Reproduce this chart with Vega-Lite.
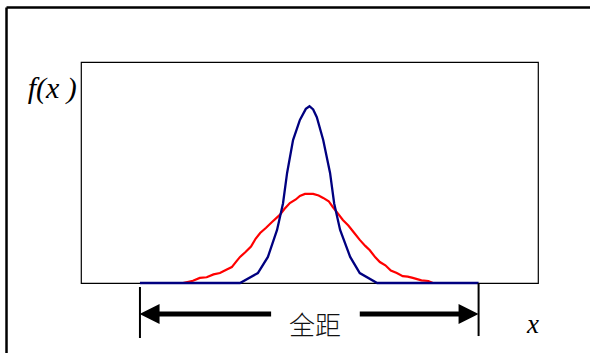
{
  "$schema": "https://vega.github.io/schema/vega-lite/v6.json",
  "width": 457,
  "height": 221,
  "autosize": {"type": "none"},
  "padding": {"left": 81, "top": 62, "right": 52, "bottom": 70},
  "background": "white",
  "config": {"view": {"stroke": "black", "strokeWidth": 1.2}, "axis": {"disable": true}},
  "datasets": {
    "curves": [
      {"series": "red", "x": -2.77, "y": 0},
      {"series": "red", "x": -2.55, "y": 1.0},
      {"series": "red", "x": -2.40, "y": 2.3},
      {"series": "red", "x": -2.25, "y": 2.6},
      {"series": "red", "x": -2.10, "y": 3.9},
      {"series": "red", "x": -1.96, "y": 4.5},
      {"series": "red", "x": -1.82, "y": 6.0},
      {"series": "red", "x": -1.70, "y": 7.2},
      {"series": "red", "x": -1.60, "y": 9.8},
      {"series": "red", "x": -1.52, "y": 11.8},
      {"series": "red", "x": -1.40, "y": 14.0},
      {"series": "red", "x": -1.28, "y": 16.5},
      {"series": "red", "x": -1.18, "y": 20.0},
      {"series": "red", "x": -1.08, "y": 22.6},
      {"series": "red", "x": -0.95, "y": 25.0},
      {"series": "red", "x": -0.82, "y": 27.6},
      {"series": "red", "x": -0.65, "y": 30.8},
      {"series": "red", "x": -0.55, "y": 33.5},
      {"series": "red", "x": -0.43, "y": 36.2},
      {"series": "red", "x": -0.30, "y": 37.8},
      {"series": "red", "x": -0.21, "y": 39.4},
      {"series": "red", "x": -0.10, "y": 40.3},
      {"series": "red", "x": 0.08, "y": 40.3},
      {"series": "red", "x": 0.20, "y": 39.6},
      {"series": "red", "x": 0.30, "y": 38.5},
      {"series": "red", "x": 0.42, "y": 37.0},
      {"series": "red", "x": 0.51, "y": 34.4},
      {"series": "red", "x": 0.62, "y": 31.5},
      {"series": "red", "x": 0.73, "y": 28.5},
      {"series": "red", "x": 0.85, "y": 26.0},
      {"series": "red", "x": 0.98, "y": 22.6},
      {"series": "red", "x": 1.10, "y": 19.5},
      {"series": "red", "x": 1.22, "y": 16.8},
      {"series": "red", "x": 1.32, "y": 14.8},
      {"series": "red", "x": 1.44, "y": 11.6},
      {"series": "red", "x": 1.54, "y": 9.5},
      {"series": "red", "x": 1.66, "y": 8.0},
      {"series": "red", "x": 1.78, "y": 5.6},
      {"series": "red", "x": 1.91, "y": 4.5},
      {"series": "red", "x": 2.04, "y": 3.1},
      {"series": "red", "x": 2.15, "y": 2.9},
      {"series": "red", "x": 2.26, "y": 2.3},
      {"series": "red", "x": 2.45, "y": 1.2},
      {"series": "red", "x": 2.60, "y": 0.9},
      {"series": "red", "x": 2.70, "y": 0},
      {"series": "blue", "x": -3.71, "y": 0},
      {"series": "blue", "x": -1.52, "y": 0},
      {"series": "blue", "x": -1.13, "y": 4.5},
      {"series": "blue", "x": -0.91, "y": 11.8},
      {"series": "blue", "x": -0.71, "y": 24.0},
      {"series": "blue", "x": -0.58, "y": 36.0},
      {"series": "blue", "x": -0.49, "y": 49.8},
      {"series": "blue", "x": -0.36, "y": 64.7},
      {"series": "blue", "x": -0.21, "y": 73.8},
      {"series": "blue", "x": -0.08, "y": 78.8},
      {"series": "blue", "x": 0.0, "y": 80.0},
      {"series": "blue", "x": 0.08, "y": 78.5},
      {"series": "blue", "x": 0.16, "y": 75.0},
      {"series": "blue", "x": 0.30, "y": 64.7},
      {"series": "blue", "x": 0.45, "y": 49.8},
      {"series": "blue", "x": 0.54, "y": 36.0},
      {"series": "blue", "x": 0.67, "y": 24.0},
      {"series": "blue", "x": 0.89, "y": 11.8},
      {"series": "blue", "x": 1.10, "y": 4.5},
      {"series": "blue", "x": 1.48, "y": 0},
      {"series": "blue", "x": 3.70, "y": 0}
    ],
    "bars": [
      {"x": -3.71, "y": -1.8, "y2": -24.9},
      {"x": 3.70, "y": 0, "y2": -24.0}
    ],
    "shafts": [
      {"x": -3.50, "x2": -0.84, "y": -14.0},
      {"x": 1.10, "x2": 3.48, "y": -14.0}
    ],
    "heads": [
      {"x": -3.50, "y": -14.0, "dir": "left"},
      {"x": 3.48, "y": -14.0, "dir": "right"}
    ],
    "frame": [
      {"x": -6.63, "x2": 6.5, "y": 124.7, "y2": 124.7},
      {"x": -6.63, "x2": -6.63, "y": 124.7, "y2": -36}
    ],
    "range": [{"x": 0.12, "y": -19.9, "text": "全距"}],
    "xlab": [{"x": 4.89, "y": -22.6, "text": "x"}],
    "ylab": [{"x": -5.63, "y": 83.7, "text": "f(x )"}]
  },
  "layer": [
    {
      "data": {"name": "curves"},
      "transform": [{"filter": "datum.series === 'red'"}],
      "mark": {"type": "line", "color": "#ff0000", "strokeWidth": 2.2, "clip": false},
      "encoding": {
        "x": {"field": "x", "type": "quantitative", "scale": {"domain": [-5, 5], "nice": false, "zero": false}, "axis": null},
        "y": {"field": "y", "type": "quantitative", "scale": {"domain": [0, 100], "nice": false, "zero": false}, "axis": null},
        "order": {"field": "x", "type": "quantitative"}
      }
    },
    {
      "data": {"name": "curves"},
      "transform": [{"filter": "datum.series === 'blue'"}],
      "mark": {"type": "line", "color": "#000080", "strokeWidth": 2.3, "clip": false},
      "encoding": {
        "x": {"field": "x", "type": "quantitative", "axis": null},
        "y": {"field": "y", "type": "quantitative", "axis": null},
        "order": {"field": "x", "type": "quantitative"}
      }
    },
    {
      "data": {"name": "bars"},
      "mark": {"type": "rule", "color": "black", "strokeWidth": 2, "clip": false},
      "encoding": {
        "x": {"field": "x", "type": "quantitative", "axis": null},
        "y": {"field": "y", "type": "quantitative", "axis": null},
        "y2": {"field": "y2"}
      }
    },
    {
      "data": {"name": "shafts"},
      "mark": {"type": "rule", "color": "black", "strokeWidth": 5, "clip": false},
      "encoding": {
        "x": {"field": "x", "type": "quantitative", "axis": null},
        "x2": {"field": "x2"},
        "y": {"field": "y", "type": "quantitative", "axis": null}
      }
    },
    {
      "data": {"name": "heads"},
      "mark": {"type": "point", "filled": true, "color": "black", "opacity": 1, "size": 400, "clip": false},
      "encoding": {
        "x": {"field": "x", "type": "quantitative", "axis": null},
        "y": {"field": "y", "type": "quantitative", "axis": null},
        "shape": {"field": "dir", "type": "nominal", "scale": {"domain": ["left", "right"], "range": ["M-1,0L1,-1L1,1Z", "M1,0L-1,-1L-1,1Z"]}, "legend": null}
      }
    },
    {
      "data": {"name": "frame"},
      "mark": {"type": "rule", "color": "black", "strokeWidth": 2.5, "clip": false},
      "encoding": {
        "x": {"field": "x", "type": "quantitative", "axis": null},
        "x2": {"field": "x2"},
        "y": {"field": "y", "type": "quantitative", "axis": null},
        "y2": {"field": "y2"}
      }
    },
    {
      "data": {"name": "range"},
      "mark": {"type": "text", "font": "Noto Sans CJK SC", "fontSize": 26, "fontWeight": 300, "align": "center", "baseline": "middle", "color": "#111", "clip": false},
      "encoding": {
        "x": {"field": "x", "type": "quantitative", "axis": null},
        "y": {"field": "y", "type": "quantitative", "axis": null},
        "text": {"field": "text"}
      }
    },
    {
      "data": {"name": "xlab"},
      "mark": {"type": "text", "font": "Liberation Serif", "fontStyle": "italic", "fontSize": 27, "align": "center", "baseline": "alphabetic", "color": "black", "clip": false},
      "encoding": {
        "x": {"field": "x", "type": "quantitative", "axis": null},
        "y": {"field": "y", "type": "quantitative", "axis": null},
        "text": {"field": "text"}
      }
    },
    {
      "data": {"name": "ylab"},
      "mark": {"type": "text", "font": "Liberation Serif", "fontStyle": "italic", "fontSize": 30, "align": "center", "baseline": "alphabetic", "color": "black", "clip": false},
      "encoding": {
        "x": {"field": "x", "type": "quantitative", "axis": null},
        "y": {"field": "y", "type": "quantitative", "axis": null},
        "text": {"field": "text"}
      }
    }
  ]
}
